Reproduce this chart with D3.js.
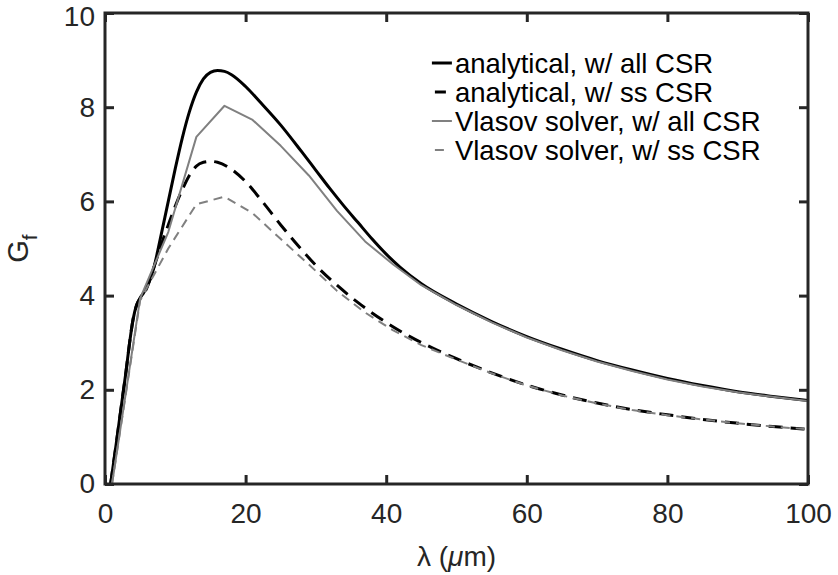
<!DOCTYPE html>
<html>
<head>
<meta charset="utf-8">
<script src="https://cdn.jsdelivr.net/npm/d3@7"></script>
<style>
  body { margin: 0; background: #fff; }
  text { font-family: "Liberation Sans", Arial, Helvetica, sans-serif; }
</style>
</head>
<body>
<div id="chart"></div>
<script>
// analytical, w/ all CSR (smooth)
const anaAllLambda = [0.8, 1.5, 2, 2.5, 3, 3.5, 4, 4.5, 5, 5.5, 6, 6.5, 7, 7.5, 8, 9, 10, 11, 12, 13, 14, 15, 16, 17, 18, 20, 22, 25, 28, 30, 32, 34, 36, 38, 40, 42, 45, 50, 55, 60, 65, 70, 75, 80, 85, 90, 95, 100];
const anaAllG      = [0, 0.75, 1.3, 1.85, 2.4, 3.0, 3.5, 3.8, 3.95, 4.06, 4.2, 4.38, 4.62, 4.95, 5.3, 6.0, 6.7, 7.35, 7.9, 8.32, 8.6, 8.74, 8.78, 8.76, 8.69, 8.44, 8.12, 7.62, 7.05, 6.66, 6.27, 5.9, 5.55, 5.2, 4.88, 4.6, 4.25, 3.82, 3.45, 3.13, 2.86, 2.62, 2.42, 2.24, 2.09, 1.96, 1.86, 1.77];

// analytical, w/ ss CSR (smooth)
const anaSsLambda = [0.8, 1.5, 2, 2.5, 3, 3.5, 4, 4.5, 5, 5.5, 6, 7, 8, 9, 10, 11, 12, 13, 14, 15, 16, 18, 20, 22, 25, 28, 30, 33, 36, 40, 43, 47, 50, 55, 60, 65, 70, 75, 80, 85, 90, 95, 100];
const anaSsG      = [0, 0.75, 1.3, 1.85, 2.4, 3.0, 3.5, 3.8, 3.94, 4.03, 4.18, 4.62, 5.08, 5.5, 5.9, 6.25, 6.55, 6.75, 6.83, 6.85, 6.83, 6.68, 6.42, 6.07, 5.5, 4.97, 4.64, 4.22, 3.85, 3.43, 3.16, 2.86, 2.66, 2.36, 2.1, 1.89, 1.72, 1.58, 1.47, 1.37, 1.29, 1.22, 1.16];

// Vlasov solver grid
const vlasovLambda = [1, 5, 9, 13, 17, 21, 25, 29, 33, 37, 41, 45, 50, 55, 60, 65, 70, 75, 80, 85, 90, 95, 100];
const vlasovAllG   = [0, 3.94, 5.35, 7.37, 8.03, 7.73, 7.18, 6.55, 5.8, 5.15, 4.66, 4.22, 3.8, 3.43, 3.11, 2.84, 2.6, 2.4, 2.22, 2.07, 1.95, 1.85, 1.76];
const vlasovSsG    = [0, 3.9, 5.0, 5.94, 6.1, 5.75, 5.2, 4.66, 4.1, 3.64, 3.26, 2.95, 2.64, 2.35, 2.09, 1.88, 1.71, 1.57, 1.46, 1.37, 1.29, 1.22, 1.16];

const xTicks = [0, 20, 40, 60, 80, 100];
const yTicks = [0, 2, 4, 6, 8, 10];

const legendLabels = ["analytical, w/ all CSR", "analytical, w/ ss CSR", "Vlasov solver, w/ all CSR", "Vlasov solver, w/ ss CSR"];

const W = 838, H = 575;
const margin = { top: 13, right: 30, bottom: 91, left: 105 };
const width = W - margin.left - margin.right;
const height = H - margin.top - margin.bottom;
const axisColor = "#262626";

const svg = d3.select("#chart").append("svg")
    .attr("width", W)
    .attr("height", H)
    .append("g")
    .attr("transform", `translate(${margin.left},${margin.top})`);

const x = d3.scaleLinear().domain([0, 100]).range([0, width]);
const y = d3.scaleLinear().domain([0, 10]).range([height, 0]);

// series
const series = [
    { xs: anaAllLambda, ys: anaAllG, color: "#000000", lw: 3, dash: null, curve: d3.curveMonotoneX },
    { xs: anaSsLambda, ys: anaSsG, color: "#000000", lw: 3, dash: "14,8", curve: d3.curveMonotoneX },
    { xs: vlasovLambda, ys: vlasovAllG, color: "#808080", lw: 2, dash: null, curve: d3.curveLinear },
    { xs: vlasovLambda, ys: vlasovSsG, color: "#808080", lw: 2, dash: "9,6", curve: d3.curveLinear }
];

svg.append("clipPath").attr("id", "clip")
    .append("rect").attr("width", width).attr("height", height);

const plot = svg.append("g").attr("clip-path", "url(#clip)");

series.forEach(s => {
    const pts = s.xs.map((v, i) => [v, s.ys[i]]);
    const line = d3.line().x(d => x(d[0])).y(d => y(d[1])).curve(s.curve);
    plot.append("path")
        .datum(pts)
        .attr("fill", "none")
        .attr("stroke", s.color)
        .attr("stroke-width", s.lw)
        .attr("stroke-dasharray", s.dash)
        .attr("stroke-linejoin", "round")
        .attr("d", line);
});

// axes (ticks inside, box on)
const tickLen = 9;
const fontSize = 28;

const bottomAxis = svg.append("g")
    .attr("transform", `translate(0,${height})`)
    .call(d3.axisBottom(x).tickValues(xTicks).tickSizeInner(-tickLen).tickSizeOuter(0).tickPadding(19));
const leftAxis = svg.append("g")
    .call(d3.axisLeft(y).tickValues(yTicks).tickSizeInner(-tickLen).tickSizeOuter(0).tickPadding(10));
const topAxis = svg.append("g")
    .call(d3.axisTop(x).tickValues(xTicks).tickSizeInner(-tickLen).tickSizeOuter(0).tickFormat(""));
const rightAxis = svg.append("g")
    .attr("transform", `translate(${width},0)`)
    .call(d3.axisRight(y).tickValues(yTicks).tickSizeInner(-tickLen).tickSizeOuter(0).tickFormat(""));

[bottomAxis, leftAxis, topAxis, rightAxis].forEach(a => {
    a.select(".domain").remove();
    a.selectAll("line").attr("stroke", axisColor).attr("stroke-width", 3);
    a.selectAll("text")
        .attr("fill", axisColor)
        .style("font-size", fontSize + "px")
        .style("font-family", "'Liberation Sans', Arial, sans-serif");
});

// keep the top "10" inside the picture
leftAxis.selectAll(".tick text").filter(d => d === 10).attr("dy", "0.36em").attr("y", 2);

svg.append("rect")
    .attr("width", width)
    .attr("height", height)
    .attr("fill", "none")
    .attr("stroke", axisColor)
    .attr("stroke-width", 3);

// x label
const xl = svg.append("text")
    .attr("x", width / 2)
    .attr("y", height + 82)
    .attr("text-anchor", "middle")
    .attr("fill", axisColor)
    .style("font-size", fontSize + "px");
xl.append("tspan").text("λ (");
xl.append("tspan").style("font-style", "italic").text("μ");
xl.append("tspan").text("m)");

// y label
const yl = svg.append("text")
    .attr("transform", `translate(${-margin.left + 28},${height / 2}) rotate(-90)`)
    .attr("text-anchor", "middle")
    .attr("fill", axisColor)
    .style("font-size", "29px");
yl.append("tspan").text("G");
yl.append("tspan").attr("dy", 9).style("font-size", "21px").text("f");

// legend
const legend = svg.append("g").attr("transform", `translate(${x(46.5)},${63 - margin.top})`);
const legRow = 29;
legendLabels.forEach((lab, i) => {
    const s = series[i];
    const g = legend.append("g").attr("transform", `translate(0,${i * legRow})`);
    const dashed = s.dash !== null;
    g.append("line")
        .attr("x1", dashed ? 3 : 0)
        .attr("x2", dashed ? (i === 1 ? 14 : 12) : 20)
        .attr("y1", 0).attr("y2", 0)
        .attr("stroke", s.color)
        .attr("stroke-width", s.lw);
    g.append("text")
        .attr("x", 23)
        .attr("y", 10)
        .attr("fill", "#000")
        .style("font-size", "27.5px")
        .text(lab);
});
</script>
</body>
</html>
